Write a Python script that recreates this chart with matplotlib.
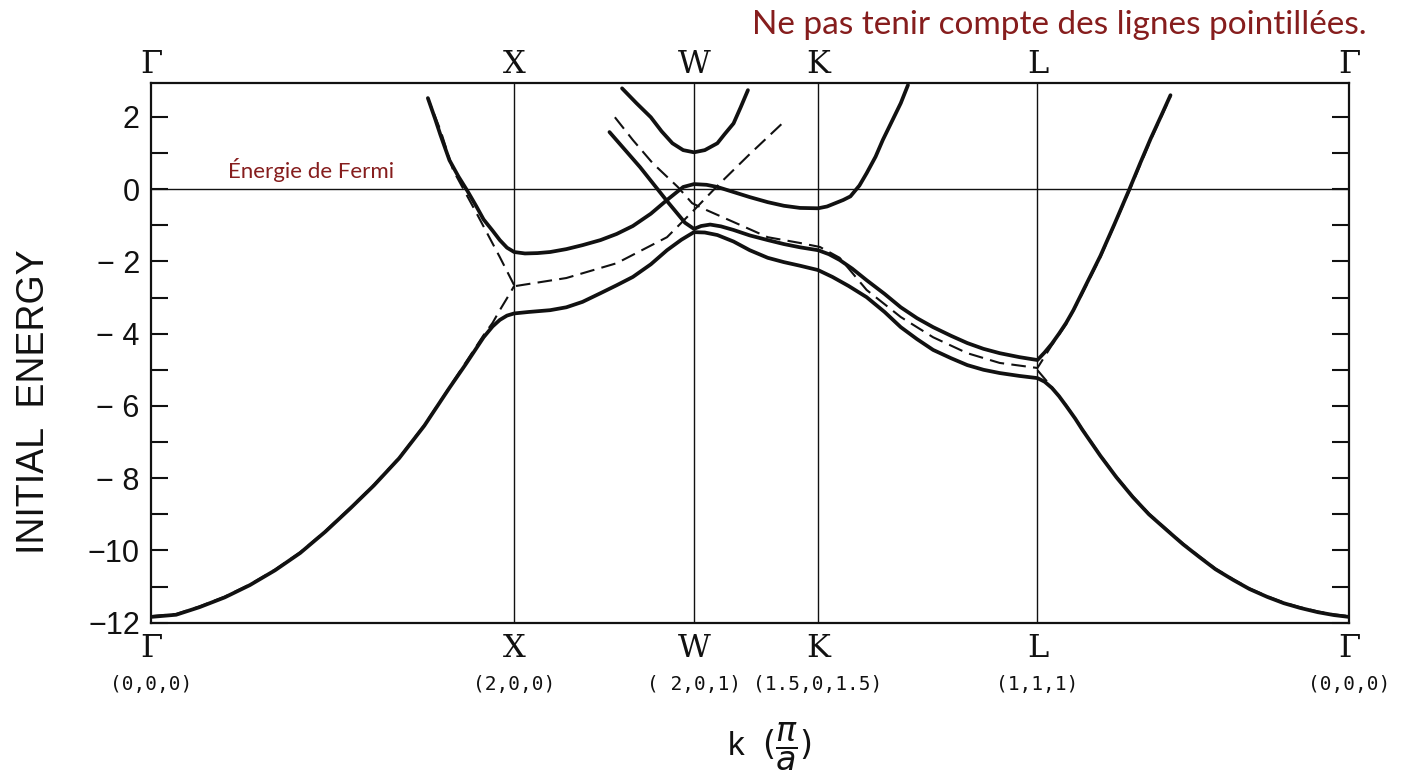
import matplotlib
matplotlib.use("Agg")
import matplotlib.pyplot as plt

# --- symmetry points along the k path (units of pi/a) ---
sym_k = [0.0, 2.02, 3.02, 3.71, 4.93, 6.663]
sym_labels = ["Γ", "X", "W", "K", "L", "Γ"]
sym_coords = ["(0,0,0)", "(2,0,0)", "( 2,0,1)", "(1.5,0,1.5)", "(1,1,1)", "(0,0,0)"]

# --- solid bands ---
band_a_k = [0.0, 0.14, 0.27, 0.41, 0.55, 0.69, 0.83, 0.97, 1.11, 1.24, 1.38, 1.52, 1.66,
            1.75, 1.85, 1.90, 1.94, 1.98, 2.02, 2.10, 2.22, 2.31, 2.40, 2.50, 2.59, 2.68,
            2.78, 2.87, 2.95, 3.02, 3.08, 3.15, 3.24, 3.33, 3.43, 3.52, 3.61, 3.71, 3.79,
            3.88, 3.98, 4.08, 4.17, 4.26, 4.35, 4.45, 4.54, 4.63, 4.72, 4.83, 4.93, 4.97,
            5.01, 5.05, 5.09, 5.14, 5.18, 5.23, 5.28, 5.37, 5.46, 5.55, 5.65, 5.74, 5.83,
            5.92, 6.02, 6.11, 6.21, 6.30, 6.39, 6.49, 6.58, 6.663]
band_a_e = [-11.84, -11.78, -11.57, -11.30, -10.96, -10.55, -10.07, -9.48, -8.83, -8.20,
            -7.45, -6.55, -5.50, -4.85, -4.10, -3.80, -3.62, -3.50, -3.44, -3.40, -3.35,
            -3.27, -3.12, -2.88, -2.66, -2.43, -2.08, -1.69, -1.40, -1.19, -1.20, -1.27,
            -1.45, -1.69, -1.90, -2.02, -2.12, -2.24, -2.43, -2.68, -2.99, -3.40, -3.82,
            -4.15, -4.45, -4.68, -4.87, -5.00, -5.09, -5.17, -5.23, -5.33, -5.50, -5.73,
            -6.00, -6.35, -6.66, -7.02, -7.38, -7.98, -8.52, -9.00, -9.44, -9.83, -10.18,
            -10.52, -10.82, -11.07, -11.29, -11.46, -11.59, -11.71, -11.79, -11.84]

band_b_k = [2.55, 2.72, 2.87, 2.97, 3.02, 3.06, 3.11, 3.17, 3.24, 3.33, 3.43, 3.52, 3.61,
            3.71, 3.77, 3.83, 3.90, 3.98, 4.08, 4.17, 4.26, 4.35, 4.45, 4.54, 4.63, 4.72,
            4.83, 4.93, 4.97, 5.01, 5.05, 5.09, 5.13, 5.17, 5.22, 5.28, 5.36, 5.44, 5.50,
            5.56, 5.62, 5.67]
band_b_e = [1.58, 0.61, -0.33, -0.93, -1.10, -1.02, -0.98, -1.03, -1.13, -1.28, -1.41,
            -1.52, -1.61, -1.69, -1.80, -1.96, -2.20, -2.52, -2.90, -3.27, -3.57, -3.82,
            -4.06, -4.26, -4.42, -4.54, -4.65, -4.73, -4.52, -4.28, -4.00, -3.70, -3.35,
            -2.95, -2.45, -1.85, -0.95, -0.02, 0.70, 1.40, 2.05, 2.60]

band_c_k = [1.54, 1.58, 1.61, 1.66, 1.71, 1.76, 1.81, 1.85, 1.90, 1.94, 1.98, 2.02, 2.08,
            2.15, 2.22, 2.31, 2.40, 2.50, 2.59, 2.68, 2.78, 2.87, 2.96, 3.02, 3.09, 3.15,
            3.24, 3.33, 3.43, 3.52, 3.61, 3.71, 3.76, 3.81, 3.85, 3.89, 3.94, 3.98, 4.03,
            4.07, 4.12, 4.17, 4.21]
band_c_e = [2.52, 1.95, 1.50, 0.80, 0.35, -0.05, -0.48, -0.84, -1.15, -1.41, -1.62,
            -1.74, -1.78, -1.77, -1.74, -1.66, -1.55, -1.41, -1.24, -1.02, -0.68, -0.30,
            0.06, 0.14, 0.12, 0.06, -0.08, -0.22, -0.36, -0.46, -0.52, -0.53, -0.48, -0.38,
            -0.30, -0.20, 0.10, 0.44, 0.90, 1.36, 1.87, 2.38, 2.88]

band_d_k = [2.62, 2.70, 2.78, 2.84, 2.90, 2.96, 3.02, 3.08, 3.15, 3.19, 3.24, 3.28, 3.32]
band_d_e = [2.79, 2.38, 1.99, 1.60, 1.27, 1.08, 1.02, 1.08, 1.27, 1.52, 1.82, 2.27, 2.74]

# --- dashed (free electron) bands ---
free1_k = [0.0, 0.14, 0.27, 0.41, 0.55, 0.69, 0.83, 0.97, 1.11, 1.24, 1.38, 1.52, 1.66,
           1.75, 1.85, 1.90, 1.94, 1.98, 2.02]
free1_e = [-11.82, -11.76, -11.55, -11.28, -10.94, -10.53, -10.05, -9.46, -8.81, -8.18,
           -7.43, -6.53, -5.48, -4.80, -4.04, -3.70, -3.35, -3.02, -2.68]

free2_k = [2.02, 1.94, 1.81, 1.68, 1.61, 1.54]
free2_e = [-2.66, -1.88, -0.66, 0.53, 1.63, 2.52]

free3_k = [2.03, 2.31, 2.59, 2.87, 3.02, 3.16, 3.33, 3.53]
free3_e = [-2.68, -2.46, -2.05, -1.33, -0.58, 0.14, 0.97, 1.91]

free4_k = [2.58, 2.68, 2.79, 2.93, 3.01, 3.09, 3.24, 3.43, 3.61, 3.72, 3.83, 3.98, 4.17,
           4.35, 4.54, 4.72, 4.93, 5.01, 5.09, 5.17, 5.28, 5.44, 5.56, 5.67]
free4_e = [1.99, 1.36, 0.72, 0.06, -0.39, -0.58, -0.91, -1.33, -1.49, -1.60, -1.90, -2.79,
           -3.54, -4.10, -4.54, -4.81, -4.95, -4.32, -3.74, -2.99, -1.89, -0.06, 1.36, 2.56]

free5_k = [4.93, 5.01, 5.09, 5.18, 5.28, 5.37, 5.46, 5.55, 5.65, 5.74, 5.83, 5.92, 6.02,
           6.11, 6.21, 6.30, 6.39, 6.49, 6.58, 6.663]
free5_e = [-5.01, -5.48, -5.98, -6.64, -7.36, -7.96, -8.50, -8.98, -9.42, -9.81, -10.16,
           -10.50, -10.80, -11.05, -11.27, -11.44, -11.57, -11.69, -11.77, -11.82]

dark_red = "#861d1d"
ink = "#111111"

fig = plt.figure(figsize=(14.07, 7.77), dpi=100)
ax = fig.add_axes([0.1073, 0.1986, 0.8515, 0.6942])

# guide lines
for k in sym_k[1:-1]:
    ax.axvline(k, color=ink, lw=1.0, zorder=1)
ax.axhline(0, color=ink, lw=1.0, zorder=1)

# dashed free-electron bands
for kk, ee in [(free1_k, free1_e), (free2_k, free2_e), (free3_k, free3_e),
               (free4_k, free4_e), (free5_k, free5_e)]:
    ax.plot(kk, ee, color=ink, lw=1.5, linestyle=(0, (7, 3.5)), zorder=2)

# solid bands
for kk, ee in [(band_a_k, band_a_e), (band_b_k, band_b_e),
               (band_c_k, band_c_e), (band_d_k, band_d_e)]:
    ax.plot(kk, ee, color=ink, lw=2.7, solid_joinstyle="round",
            solid_capstyle="round", zorder=3)

ax.set_xlim(sym_k[0], sym_k[-1])
ax.set_ylim(-12, 2.93)

for sp in ax.spines.values():
    sp.set_linewidth(1.6)
    sp.set_color(ink)

ax.set_xticks([])
ax.set_yticks([2, 0, -2, -4, -6, -8, -10, -12])
ax.set_yticklabels(["2", "0", "− 2", "− 4", "− 6", "− 8", "−10", "−12"],
                   fontfamily="Liberation Sans", fontsize=22)
ax.set_yticks([1, -1, -3, -5, -7, -9, -11], minor=True)
ax.tick_params(axis="y", which="both", direction="in", length=12, width=1.5,
               right=True, pad=8, colors=ink)

ax.set_ylabel("INITIAL  ENERGY", fontfamily="Liberation Sans", fontsize=27, color=ink)
ax.yaxis.set_label_coords(-0.0826, 0.409)

# symmetry point labels
trans = ax.get_xaxis_transform()
for k, lab, crd in zip(sym_k, sym_labels, sym_coords):
    ax.text(k, 1.034, lab, transform=trans, ha="center", va="center",
            fontfamily="DejaVu Serif", fontsize=23, color=ink)
    ax.text(k, -0.047, lab, transform=trans, ha="center", va="center",
            fontfamily="DejaVu Serif", fontsize=23, color=ink)
    ax.text(k, -0.114, crd, transform=trans, ha="center", va="center",
            fontfamily="DejaVu Sans Mono", fontsize=14, color=ink)

fig.text(770 / 1407, 1 - 747 / 777, r"k  $(\dfrac{\pi}{a})$", ha="center", va="center",
         fontfamily="Liberation Sans", fontsize=24, color=ink)

# annotations in red
fig.text(752 / 1407, 1 - 25 / 777, "Ne pas tenir compte des lignes pointillées.",
         ha="left", va="center", fontfamily="Lato", fontweight="normal",
         fontsize=24, color=dark_red)
fig.text(228 / 1407, 1 - 170 / 777, "Énergie de Fermi", ha="left", va="center",
         fontfamily="Lato", fontweight="normal", fontsize=16, color=dark_red)

fig.savefig("out.png", dpi=100, facecolor="white")
